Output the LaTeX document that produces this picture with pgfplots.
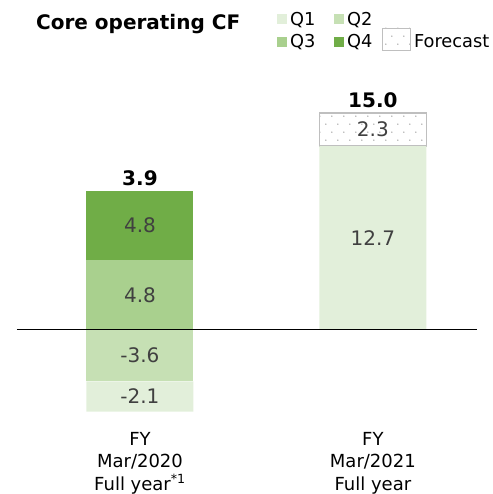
\documentclass[border=0pt]{standalone}
\usepackage{fontspec}
\setmainfont{DejaVu Sans}
\usepackage{pgfplots}
\pgfplotsset{compat=1.18}
\usetikzlibrary{patterns}
\definecolor{qa}{HTML}{E2EFDA}
\definecolor{qb}{HTML}{C6E0B4}
\definecolor{qc}{HTML}{A9D08E}
\definecolor{qd}{HTML}{70AD47}
\definecolor{lblgray}{HTML}{404040}
\definecolor{fcborder}{HTML}{BFBFBF}
\definecolor{dotgray}{HTML}{7F7F7F}
\pgfdeclarepatternformonly{sparsedots}{\pgfqpoint{-1pt}{-1pt}}{\pgfqpoint{13pt}{17pt}}{\pgfqpoint{12pt}{16pt}}{%
  \pgfpathcircle{\pgfqpoint{2pt}{2pt}}{0.65pt}%
  \pgfpathcircle{\pgfqpoint{8pt}{10pt}}{0.65pt}%
  \pgfusepath{fill}}
\tikzset{vlbl/.style={font=\fontsize{20}{24}\selectfont, text=lblgray},
  tlbl/.style={anchor=south, inner sep=0pt, yshift=5pt, font=\bfseries\fontsize{20}{24}\selectfont},
  lgd/.style={anchor=base west,inner sep=0pt,font=\fontsize{17.8}{21}\selectfont}}
\begin{document}
\begin{tikzpicture}
\begin{axis}[scale only axis,
  width=460pt, height=317.5pt,
  xmin=-0.5279, xmax=1.4464, ymin=-6, ymax=16,
  ybar stacked, bar width=107pt,
  axis line style={draw=none}, ytick=\empty,
  xtick={0,1},
  xticklabels={{FY\\Mar/2020\\Full year\textsuperscript{*1}},{FY\\Mar/2021\\Full year}},
  major tick length=0pt,
  xticklabel style={align=center, inner sep=0pt, yshift=-16pt, font=\fontsize{18}{22.5}\selectfont, text=black},
  clip=false]
\addplot[fill=qb, draw=none] coordinates {(0,-3.6) (1,0)};
\addplot[fill=qa, draw=none] coordinates {(0,-2.1) (1,12.7)};
\addplot[draw=fcborder, line width=1.5pt, pattern=sparsedots, pattern color=dotgray] coordinates {(0,0) (1,2.3)};
\addplot[fill=qc, draw=none] coordinates {(0,4.8) (1,0)};
\addplot[fill=qd, draw=none] coordinates {(0,4.8) (1,0)};
\coordinate (zl) at (axis cs:-0.5279,0);
\coordinate (zr) at (axis cs:1.4464,0);
\coordinate (l1) at (axis cs:0,-1.8);
\coordinate (l2) at (axis cs:0,-4.65);
\coordinate (l3) at (axis cs:0,2.4);
\coordinate (l4) at (axis cs:0,7.2);
\coordinate (l5) at (axis cs:1,6.35);
\coordinate (l6) at (axis cs:1,13.85);
\coordinate (t1) at (axis cs:0,9.6);
\coordinate (t2) at (axis cs:1,15);
\end{axis}
\draw[black, line width=1.2pt] (zl) -- (zr);
\node[vlbl] at (l1) {-3.6};
\node[vlbl] at (l2) {-2.1};
\node[vlbl] at (l3) {4.8};
\node[vlbl] at (l4) {4.8};
\node[vlbl] at (l5) {12.7};
\node[vlbl] at (l6) {2.3};
\node[tlbl] at (t1) {3.9};
\node[tlbl] at (t2) {15.0};
\begin{scope}[x=1pt,y=1pt,shift={(-17pt,-77.9pt)}]
\path (0,0) rectangle (493,494);
\node[anchor=base west,inner sep=0pt,font=\bfseries\fontsize{20}{24}\selectfont] at (36,464) {Core operating CF};
\fill[qa] (277,470) rectangle (287,480);
\node[lgd] at (290,468) {Q1};
\fill[qb] (334,470) rectangle (344,480);
\node[lgd] at (347,468) {Q2};
\fill[qc] (277,447) rectangle (287,457);
\node[lgd] at (290,446) {Q3};
\fill[qd] (334,447) rectangle (344,457);
\node[lgd] at (347,446) {Q4};
\draw[fcborder,pattern=sparsedots,pattern color=dotgray] (382,444) rectangle (410,466);
\node[lgd] at (414,446) {Forecast};
\end{scope}
\end{tikzpicture}
\end{document}
